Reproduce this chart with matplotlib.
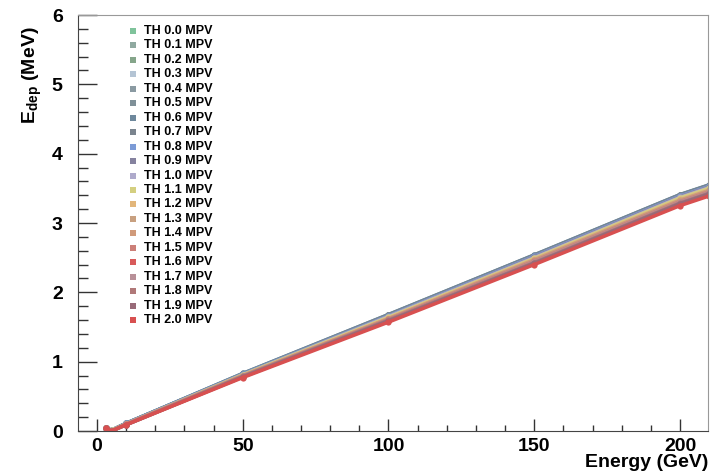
import matplotlib
matplotlib.use('Agg')
import matplotlib.pyplot as plt
from matplotlib.ticker import MultipleLocator

plt.rcParams['font.family'] = ['Liberation Sans', 'DejaVu Sans']
plt.rcParams['font.weight'] = 'bold'
plt.rcParams['mathtext.fontset'] = 'custom'
plt.rcParams['mathtext.rm'] = 'Liberation Sans:bold'
plt.rcParams['mathtext.bf'] = 'Liberation Sans:bold'

# Beam energies (GeV)
energy = [3, 5, 10, 50, 100, 150, 200, 210]

# Thresholds and MPV of deposited energy (MeV) for each threshold
thresholds = ['0.0', '0.1', '0.2', '0.3', '0.4', '0.5', '0.6', '0.7', '0.8', '0.9', '1.0',
              '1.1', '1.2', '1.3', '1.4', '1.5', '1.6', '1.7', '1.8', '1.9', '2.0']
mpv = [
    [0.04, 0.01, 0.11, 0.82, 1.67, 2.53, 3.40, 3.54],
    [0.04, 0.01, 0.11, 0.82, 1.67, 2.53, 3.40, 3.54],
    [0.04, 0.01, 0.11, 0.82, 1.66, 2.52, 3.39, 3.53],
    [0.04, 0.01, 0.11, 0.82, 1.66, 2.52, 3.39, 3.53],
    [0.04, 0.01, 0.11, 0.82, 1.67, 2.53, 3.40, 3.54],
    [0.04, 0.01, 0.11, 0.83, 1.68, 2.54, 3.41, 3.55],
    [0.04, 0.01, 0.11, 0.83, 1.68, 2.54, 3.41, 3.55],
    [0.04, 0.01, 0.11, 0.82, 1.67, 2.53, 3.40, 3.54],
    [0.04, 0.01, 0.11, 0.82, 1.66, 2.52, 3.39, 3.53],
    [0.04, 0.01, 0.10, 0.81, 1.65, 2.51, 3.38, 3.52],
    [0.04, 0.01, 0.10, 0.81, 1.65, 2.50, 3.37, 3.51],
    [0.04, 0.01, 0.10, 0.81, 1.64, 2.49, 3.36, 3.50],
    [0.04, 0.00, 0.10, 0.80, 1.63, 2.48, 3.34, 3.48],
    [0.04, 0.00, 0.10, 0.80, 1.62, 2.47, 3.33, 3.47],
    [0.04, 0.00, 0.10, 0.80, 1.62, 2.46, 3.32, 3.46],
    [0.04, 0.00, 0.10, 0.79, 1.61, 2.45, 3.31, 3.45],
    [0.04, 0.00, 0.09, 0.78, 1.59, 2.42, 3.28, 3.42],
    [0.04, 0.00, 0.09, 0.79, 1.60, 2.44, 3.30, 3.44],
    [0.04, 0.00, 0.09, 0.79, 1.60, 2.43, 3.29, 3.43],
    [0.04, 0.00, 0.09, 0.78, 1.59, 2.42, 3.28, 3.42],
    [0.04, 0.00, 0.09, 0.77, 1.57, 2.40, 3.25, 3.39],
]

colors = ['#7fc39b', '#8fa9a0', '#85a58a', '#b4c4d4', '#8a9aa2', '#7f9098', '#6e889c',
          '#7a848e', '#7c9bd6', '#85829f', '#aeaacb', '#d4cf80', '#e2b67a', '#c8a080',
          '#d09a7a', '#cc7f78', '#d85a5a', '#b89098', '#b07878', '#986a78', '#d85050']

fig = plt.figure(figsize=(7.1, 4.73), dpi=100)
ax = fig.add_axes([78 / 710, 42 / 473, 630 / 710, 416 / 473])

for th, vals, c in zip(thresholds, mpv, colors):
    ax.plot(energy, vals, color=c, lw=2.5, marker='o', ms=4.5, mew=0,
            solid_joinstyle='miter')

ax.set_xlim(-6.5, 209.6)
ax.set_ylim(0, 6)

ax.xaxis.set_major_locator(MultipleLocator(50))
ax.xaxis.set_minor_locator(MultipleLocator(10))
ax.yaxis.set_major_locator(MultipleLocator(1))
ax.yaxis.set_minor_locator(MultipleLocator(0.2))
ax.tick_params(axis='both', which='both', direction='in', color='#333333',
               labelsize=14, width=1)
ax.tick_params(axis='x', which='major', length=9, pad=5)
ax.tick_params(axis='x', which='minor', length=4.5)
ax.tick_params(axis='y', which='major', length=14, pad=11)
ax.tick_params(axis='y', which='minor', length=7)
for lab in ax.get_xticklabels() + ax.get_yticklabels():
    lab.set_fontweight('bold')

for s in ['left', 'bottom']:
    ax.spines[s].set_color('#444444')
for s in ['top', 'right']:
    ax.spines[s].set_color('#999999')

ax.set_xlabel('Energy (GeV)', fontsize=14, fontweight='bold', ha='right', va='center')
ax.xaxis.set_label_coords(1.0, -0.075)
ax.set_ylabel(r'E$_{\mathrm{dep}}$ (MeV)', fontsize=14, fontweight='bold',
              ha='center', va='center')
ax.yaxis.set_label_coords(-0.072, 0.855)

# legend, drawn by hand like the ROOT TLegend
y0 = 0.9615
dy = 0.03474
for i, (th, c) in enumerate(zip(thresholds, colors)):
    y = y0 - i * dy
    ax.plot([0.0873], [y], marker='s', ms=5, color=c, mew=0, transform=ax.transAxes,
            clip_on=False)
    ax.text(0.1048, y, 'TH %s MPV' % th, transform=ax.transAxes, fontsize=9,
            fontweight='bold', va='center', ha='left')

fig.savefig('out.png', dpi=100)
